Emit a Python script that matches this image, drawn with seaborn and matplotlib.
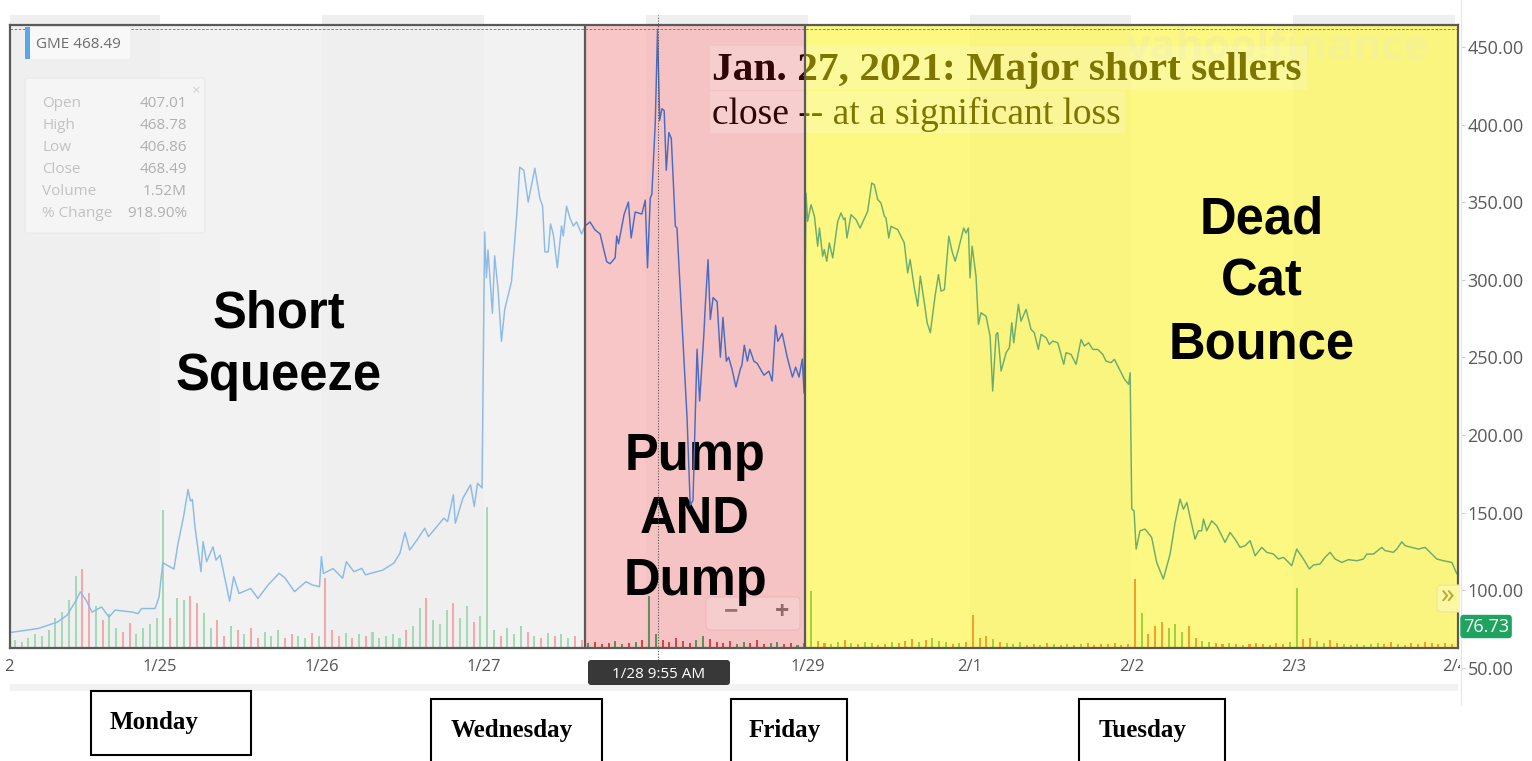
import numpy as np
import pandas as pd
import matplotlib
matplotlib.use("Agg")
import matplotlib.pyplot as plt
import matplotlib.transforms as mtransforms
from matplotlib.patches import Rectangle, FancyBboxPatch
import seaborn as sns

# ------------------------------------------------------------------ data
day_labels = ["1/22", "1/25", "1/26", "1/27", "1/28", "1/29", "2/1", "2/2", "2/3", "2/4"]

# GME intraday price. t = trading-day position (0 = 1/22 open, 1 = 1/25 open, ...)
t_squeeze = [0.083, 0.246, 0.367, 0.426, 0.475, 0.508, 0.543, 0.580, 0.639, 0.685, 0.722, 0.790, 0.830, 0.864, 0.886, 0.969, 0.994,
             1.017, 1.086, 1.111, 1.146, 1.173, 1.188, 1.200, 1.216, 1.253, 1.266, 1.288, 1.327, 1.346, 1.371, 1.430, 1.455, 1.488,
             1.560, 1.605, 1.667, 1.735, 1.772, 1.831, 1.902, 1.940, 1.985,
             1.997, 2.009, 2.069, 2.128, 2.151, 2.198, 2.246, 2.269, 2.320, 2.375, 2.445, 2.482, 2.513, 2.542, 2.587, 2.635, 2.658,
             2.753, 2.776, 2.812, 2.824, 2.871, 2.918, 2.941, 2.961, 2.989]
p_squeeze = [73.0, 75.4, 79.6, 84.0, 92.4, 99.0, 93.8, 86.0, 89.3, 82.8, 87.3, 86.5, 86.0, 85.0, 88.3, 88.3, 95.7,
             117.8, 113.7, 130.0, 147.8, 165.0, 157.5, 158.6, 141.0, 112.0, 131.4, 118.5, 128.0, 119.5, 122.7, 93.0, 108.8, 98.0,
             101.2, 94.8, 103.4, 111.0, 108.0, 99.2, 105.6, 103.5, 102.4,
             121.7, 110.9, 114.0, 107.8, 118.5, 112.0, 114.2, 110.0, 111.5, 113.0, 117.6, 124.0, 137.3, 126.0, 132.4, 140.0, 134.6,
             146.5, 144.3, 161.6, 143.3, 159.4, 168.0, 154.0, 169.0, 166.0]

t_pump = [3.005, 3.016, 3.026, 3.053, 3.067, 3.088, 3.109, 3.129, 3.171, 3.202, 3.222, 3.247, 3.274, 3.315, 3.346, 3.363,
          3.377, 3.398, 3.412, 3.429, 3.454, 3.480, 3.491, 3.511, 3.532, 3.553, 3.573, 3.604, 3.625, 3.656, 3.687, 3.718,
          3.759, 3.780, 3.811, 3.821, 3.832, 3.867, 3.893, 3.910, 3.935, 3.976, 3.997,
          4.011, 4.028, 4.038, 4.059, 4.073, 4.086, 4.100, 4.114, 4.127, 4.143, 4.158, 4.183, 4.193, 4.255, 4.275, 4.292,
          4.317, 4.333, 4.358, 4.368, 4.385, 4.399, 4.416, 4.441, 4.461, 4.477, 4.498, 4.512, 4.533, 4.557, 4.584, 4.594,
          4.609, 4.628, 4.643, 4.668, 4.688, 4.730, 4.761, 4.781, 4.802, 4.816, 4.843, 4.874, 4.906, 4.926, 4.947, 4.967, 4.978]
p_pump = [330.9, 301.4, 319.3, 278.4, 315.5, 293.7, 260.4, 280.9, 298.9, 339.8, 372.6, 370.6, 350.1, 371.9, 352.6, 347.5,
          318.0, 318.0, 336.0, 329.6, 307.8, 334.7, 328.3, 347.5, 339.8, 334.7, 337.3, 329.6, 334.7, 337.3, 332.2, 329.6,
          311.7, 310.4, 314.2, 328.3, 323.2, 342.4, 350.1, 327.0, 343.7, 342.4, 351.4,
          307.8, 352.6, 355.2, 401.3, 461.5, 402.6, 410.3, 409.0, 370.6, 394.9, 391.1, 334.7, 333.4, 211.7, 155.0, 158.0,
          255.3, 222.0, 263.0, 283.5, 313.0, 274.5, 288.6, 286.0, 250.2, 275.8, 247.6, 250.2, 242.5, 231.0, 242.5, 245.0,
          257.9, 247.6, 255.3, 247.6, 246.3, 238.6, 241.2, 234.8, 270.7, 260.4, 265.5, 250.2, 237.4, 243.8, 237.4, 249.0, 227.0]

t_fri_mon = [4.990, 5.000, 5.021, 5.042, 5.062, 5.073, 5.093, 5.103, 5.118, 5.134, 5.155, 5.186, 5.206, 5.223, 5.231, 5.243,
             5.268, 5.299, 5.324, 5.371, 5.396, 5.412, 5.433, 5.453, 5.474, 5.484, 5.501, 5.515, 5.556, 5.597, 5.618, 5.633,
             5.659, 5.680, 5.696, 5.721, 5.738, 5.758, 5.787, 5.808, 5.824, 5.845, 5.872, 5.892, 5.911, 5.931, 5.964, 5.978, 5.993,
             6.003, 6.016, 6.040, 6.055, 6.071, 6.102, 6.127, 6.143, 6.164, 6.174, 6.195, 6.226, 6.246, 6.261, 6.273, 6.302,
             6.318, 6.349, 6.380, 6.400, 6.425, 6.442, 6.473, 6.493, 6.514, 6.545, 6.582, 6.596, 6.627, 6.658, 6.689, 6.709,
             6.736, 6.761, 6.792, 6.823, 6.843, 6.874, 6.895, 6.926, 6.957, 6.983, 6.992]
p_fri_mon = [356.0, 337.7, 348.4, 341.0, 321.7, 333.4, 315.2, 319.5, 312.0, 323.8, 314.2, 337.7, 343.1, 338.8, 339.9, 327.0,
             342.0, 338.8, 333.4, 344.2, 362.4, 361.3, 351.7, 349.5, 341.0, 339.9, 327.0, 334.5, 332.4, 323.8, 304.5, 313.1,
             294.9, 283.1, 302.4, 285.2, 272.4, 266.0, 289.5, 303.4, 292.7, 293.8, 328.1, 318.4, 312.0, 319.5, 333.4, 330.2, 333.4,
             301.3, 321.7, 302.4, 271.3, 278.8, 276.6, 263.8, 228.4, 264.9, 266.0, 241.3, 253.1, 256.3, 272.4, 259.5, 284.2,
             273.4, 281.0, 268.1, 266.0, 255.2, 264.9, 262.7, 258.4, 260.6, 259.5, 245.6, 253.1, 252.0, 245.6, 261.6, 257.4,
             259.5, 255.2, 255.2, 252.0, 247.7, 246.7, 248.8, 242.4, 236.0, 232.7, 240.2]

t_tue_wed = [7.002, 7.016, 7.029, 7.053, 7.084, 7.125, 7.156, 7.197, 7.239, 7.270, 7.300, 7.321, 7.342, 7.393, 7.414, 7.434,
             7.445, 7.465, 7.496, 7.527, 7.558, 7.578, 7.609, 7.640, 7.671, 7.702, 7.733, 7.764, 7.805, 7.836, 7.877, 7.908,
             7.939, 7.990,
             8.021, 8.062, 8.099, 8.124, 8.165, 8.196, 8.227, 8.258, 8.299, 8.340, 8.392, 8.433, 8.454, 8.495, 8.546, 8.567,
             8.618, 8.639, 8.670, 8.690, 8.731, 8.772, 8.814, 8.855, 8.886, 8.927, 8.979, 9.010]
p_tue_wed = [152.3, 151.3, 126.6, 138.4, 139.5, 134.1, 118.0, 107.3, 123.4, 143.8, 158.8, 152.3, 156.6, 133.0, 138.4, 138.4,
             145.9, 138.4, 144.8, 141.6, 135.2, 130.9, 137.3, 133.0, 127.7, 128.8, 132.0, 122.3, 127.7, 124.5, 123.4, 120.2,
             121.3, 115.9,
             126.6, 120.2, 113.8, 116.3, 117.0, 121.3, 124.5, 120.2, 118.0, 119.8, 119.1, 120.2, 123.4, 123.4, 127.7, 125.6,
             124.5, 126.6, 131.3, 128.8, 127.7, 126.6, 127.7, 123.4, 120.2, 119.1, 118.0, 110.6]

# traded volume, 24 bars per trading day (relative units, 10k shares)
vol_0122 = [0, 0, 8, 6, 10, 14, 12, 18, 30, 36, 48, 72, 79, 55, 42, 28, 34, 20, 16, 25, 14, 20, 24, 30]
vol_0125 = [138, 30, 50, 48, 52, 45, 35, 20, 28, 12, 22, 18, 14, 20, 10, 16, 12, 18, 10, 14, 12, 10, 15, 12]
vol_0126 = [70, 18, 12, 15, 10, 14, 12, 16, 10, 12, 14, 10, 18, 22, 40, 50, 28, 24, 38, 45, 30, 42, 26, 32]
vol_0127 = [141, 18, 12, 20, 14, 22, 16, 12, 10, 15, 12, 14, 10, 12, 8, 5, 6, 4, 5, 7, 4, 5, 6, 8]
vol_0128 = [52, 14, 8, 6, 10, 7, 5, 8, 12, 9, 6, 5, 7, 4, 6, 5, 8, 4, 5, 6, 4, 5, 3, 5]
vol_0129 = [57, 7, 5, 4, 6, 8, 5, 4, 6, 5, 3, 4, 6, 5, 7, 9, 6, 8, 10, 7, 6, 4, 5, 6]
vol_0201 = [33, 10, 12, 9, 6, 5, 4, 6, 3, 4, 3, 5, 4, 3, 4, 3, 4, 5, 3, 4, 4, 5, 3, 4]
vol_0202 = [69, 35, 14, 22, 26, 20, 24, 16, 22, 10, 7, 6, 5, 4, 5, 4, 3, 4, 5, 4, 3, 5, 4, 6]
vol_0203 = [60, 9, 10, 7, 5, 8, 5, 4, 3, 4, 3, 4, 5, 4, 6, 4, 3, 5, 4, 6, 5, 4, 5, 4]

phase_names = ["Short\nSqueeze", "Pump\nAND\nDump", "Dead\nCat\nBounce"]
phase_breaks = [3.625, 4.984]
weekday_names = ["Monday", "Wednesday", "Friday", "Tuesday"]
note_lines = ["Jan. 27, 2021: Major short sellers", "close -- at a significant loss"]
quote_text = "GME 468.49"
info_labels = ["Open", "High", "Low", "Close", "Volume", "% Change"]
info_values = ["407.01", "468.78", "406.86", "468.49", "1.52M", "918.90%"]
price_ticks = [50, 100, 150, 200, 250, 300, 350, 400, 450]
prev_close = 76.73
cross_t = 4.073
cross_label = "1/28 9:55 AM"

# ------------------------------------------------------------------ setup
W, H, DPI = 1532, 761, 100
sns.set_theme(style="white")
plt.rcParams['font.family'] = ['Open Sans', 'DejaVu Sans']

fig = plt.figure(figsize=(W / DPI, H / DPI), dpi=DPI)
fig.patch.set_facecolor('white')
ID = mtransforms.IdentityTransform()


def price_at(ypx):
    return 450 - (ypx - 47) * 400 / 621


def box(x0, y0, x1, y1, rs=0, **kw):
    style = f"round,pad=0,rounding_size={rs}" if rs else "square,pad=0"
    p = FancyBboxPatch((x0, H - y1), x1 - x0, y1 - y0, boxstyle=style, transform=ID, **kw)
    fig.add_artist(p)
    return p


def label(x, y, s, **kw):
    return fig.text(x, H - y, s, transform=ID, **kw)


L, R, T, B = 10, 1458, 25, 648
X0, X1 = 0.0735, 9.017
Y0, Y1 = price_at(B), price_at(T)

ax = fig.add_axes([L / W, 1 - B / H, (R - L) / W, (B - T) / H])
ax_v = ax.twinx()
ax.set_zorder(2)
ax_v.set_zorder(1)
ax.patch.set_visible(False)
ax_v.patch.set_visible(False)

bounds = [X0] + phase_breaks + [X1]
bg_cols = ['#f2f2f2', '#f8c6c6', '#fcf881']
line_cols = ['#8bbbe6', '#4a6bc1', '#6cad6e']
vol_cols = [('#a3d9b5', '#f3a9a9'), ('#5f8f5c', '#d54545'), ('#a4cf3e', '#f2a12c')]

# phase backgrounds + faint alternating day shading
for i in range(3):
    ax_v.axvspan(bounds[i], bounds[i + 1], color=bg_cols[i], lw=0, zorder=0)
for d in range(0, 9, 2):
    ax_v.axvspan(max(d, X0), d + 1, color='black', alpha=0.01, lw=0, zorder=0.5)

# ------------------------------------------------------------------ price
t_all = np.array(t_squeeze + t_pump + t_fri_mon + t_tue_wed)
p_all = np.array(p_squeeze + p_pump + p_fri_mon + p_tue_wed)
price_df = pd.DataFrame({"t": t_all, "price": p_all})

for i in range(3):
    sns.lineplot(data=price_df, x="t", y="price", ax=ax, color=line_cols[i], linewidth=1.05,
                 estimator=None, sort=False, zorder=6)
    ln = ax.get_lines()[-1]
    ln.set_clip_path(Rectangle((bounds[i], Y0), bounds[i + 1] - bounds[i], Y1 - Y0, transform=ax.transData))

# ------------------------------------------------------------------ volume
vol_days = [vol_0122, vol_0125, vol_0126, vol_0127, vol_0128, vol_0129, vol_0201, vol_0202, vol_0203]
n_per_day = 24
rows = []
for d, vols in enumerate(vol_days):
    for k, v in enumerate(vols):
        t0 = d + k / n_per_day
        rows.append((t0 + 0.5 / n_per_day, v, t0, t0 + 1 / n_per_day))
vdf = pd.DataFrame(rows, columns=["t", "vol", "t0", "t1"])
up = np.interp(vdf.t1, t_all, p_all) >= np.interp(vdf.t0, t_all, p_all)
ph = np.searchsorted(phase_breaks, vdf.t)
bar_cols = [vol_cols[p][0] if u else vol_cols[p][1] for p, u in zip(ph, up)]
ax_v.bar(vdf.t, vdf.vol, width=0.3 / n_per_day, color=bar_cols, linewidth=0, zorder=2)
ax_v.set_ylim(0, B - T)
ax_v.set_yticks([])
for s in ax_v.spines.values():
    s.set_visible(False)

# ------------------------------------------------------------------ main axes decorations
for b in phase_breaks:
    ax.axvline(b, color='#5a5a5a', lw=1.6, zorder=8)
for s in ax.spines.values():
    s.set_color('#5a5a5a')
    s.set_linewidth(1.6)
    s.set_zorder(9)

# top band strip above the frame (alternating days)
for d in range(0, 9, 2):
    x0 = max(d, X0)
    ax.add_patch(Rectangle((x0, 1.0), d + 1 - x0, 10 / (B - T), transform=ax.get_xaxis_transform(),
                           fc='#efefef', ec='none', clip_on=False, zorder=0))

# crosshair
ax.axhline(p_all.max(), color='#707070', lw=0.6, ls=(0, (3, 2)), zorder=7)
ax.vlines(cross_t, -0.02, 1.016, transform=ax.get_xaxis_transform(), colors='#555555',
          linestyles=(0, (1, 1.5)), lw=0.8, clip_on=False, zorder=7)

# x ticks; the 1/28 tick text sits under the crosshair date label
tick_text = [lab if lab != "1/28" else "" for lab in day_labels[1:]]
ax.set_xticks(range(1, 10))
ax.set_xticklabels(tick_text)
ax.tick_params(axis='x', length=3.6, width=0.8, color='#cccccc', labelsize=12, labelcolor='#555555', pad=4.5)
ax.set_yticks([])
ax.set_xlabel("")
ax.set_ylabel("")
off = mtransforms.offset_copy(ax.get_xaxis_transform(), fig=fig, y=-(3.6 + 4.5), units='points')
t22 = ax.text(0, 0, day_labels[0], transform=off, ha='center', va='top', fontsize=12, color='#555555', clip_on=True)
t22.set_clip_path(Rectangle((5, 0), W, H, transform=ID))

# phase labels
phase_pos = [(1.735, 258.0), (4.305, 145.9), (7.807, 298.5)]
for name, (px, py) in zip(phase_names, phase_pos):
    ax.text(px, py, name, ha='center', va='center', fontsize=36.5, fontweight='bold',
            family='Liberation Sans', color='black', linespacing=1.36, zorder=4)

# annotation (dark on the pink phase, olive on the yellow phase)
clip_red = Rectangle((phase_breaks[0], Y0), phase_breaks[1] - phase_breaks[0], Y1 - Y0, transform=ax.transData)
clip_yel = Rectangle((phase_breaks[1], Y0), X1 - phase_breaks[1], Y1 - Y0, transform=ax.transData)
note_x = 4.4096
for txt, yb, kw in [(note_lines[0], 428.7, dict(fontweight='bold', fontsize=29.8)),
                    (note_lines[1], 400.4, dict(fontsize=27))]:
    for col, cp in [('#300505', clip_red), ('#7d7600', clip_yel)]:
        tt = ax.text(note_x, yb, txt, ha='left', va='baseline', color=col, family='Liberation Serif',
                     zorder=7, clip_on=True, **kw)
        tt.set_clip_path(cp)

ax.set_xlim(X0, X1)
ax.set_ylim(Y0, Y1)

# ------------------------------------------------------------------ figure-level widgets
label(1430, 48, "yahoo!finance", ha='right', va='center', fontsize=31, fontweight='bold',
      color='#f6f291', zorder=1.2)
box(710, 46, 1307, 90, fc='white', alpha=0.2, ec='none', zorder=1.5)
box(710, 91, 1125, 133, fc='white', alpha=0.2, ec='none', zorder=1.5)

# quote chip + info panel
box(25, 27, 130, 59, rs=2, fc='#f8f8f8', ec='none', zorder=2.1)
box(25, 27, 29.5, 59, fc='#5aa6e9', ec='none', zorder=2.2)
label(36, 45, quote_text, ha='left', va='center', fontsize=11, color='#6e6e6e', zorder=2.3)
box(25, 78, 205, 233, rs=3, fc='#f5f5f5', ec='#e9e9e9', lw=0.8, zorder=2.1)
label(195, 91, "×", ha='center', va='center', fontsize=11, color='#d2d2d2', zorder=2.3)
for i, (lab, val) in enumerate(zip(info_labels, info_values)):
    yy = 103.5 + 22 * i
    label(42, yy, lab, ha='left', va='center', fontsize=11, color='#c2c2c2', zorder=2.3)
    label(187, yy, val, ha='right', va='center', fontsize=11, color='#b0b0b0', zorder=2.3)

# zoom buttons, scroll button
box(706, 597, 800, 630, rs=4, fc='#f6cdcd', ec='#ebb9b9', lw=0.8, zorder=1.5)
box(756.5, 600, 757.3, 627, fc='#e8b4b4', ec='none', zorder=1.6)
label(731, 612, "−", ha='center', va='center', fontsize=18, fontweight='bold', color='#9a7272', zorder=1.7)
label(782, 612, "+", ha='center', va='center', fontsize=18, fontweight='bold', color='#8e6a6a', zorder=1.7)
box(1437, 585, 1470, 612, rs=4, fc='#fbf7a2', ec='#ece69a', lw=0.8, zorder=2.1)
label(1448, 597, "»", ha='center', va='center', fontsize=20, color='#b3ab2a', zorder=2.2)

# bottom strip and crosshair date label
box(10, 684, 1458, 691, fc='#f2f2f2', ec='none', zorder=0.5)
box(588, 660, 730, 685, rs=3, fc='#383838', ec='none', zorder=2.2)
label(659, 674, cross_label, ha='center', va='center', fontsize=11, color='white', zorder=2.3)

# right margin and price scale
box(1459.5, 0, W, H, fc='white', ec='none', zorder=2.5)
ax_r = fig.add_axes([1460 / W, 1 - 705 / H, 0.5 / W, 705 / H])
ax_r.set_zorder(3)
ax_r.patch.set_visible(False)
ax_r.set_ylim(price_at(705), price_at(0))
ax_r.set_yticks(price_ticks)
ax_r.set_yticklabels([f"{v:.2f}" for v in price_ticks])
ax_r.yaxis.tick_right()
ax_r.tick_params(axis='y', length=3, width=0.8, color='#cfcfcf', labelsize=13, labelcolor='#5a5a5a', pad=2)
ax_r.set_xticks([])
for s in ['left', 'top', 'bottom']:
    ax_r.spines[s].set_visible(False)
ax_r.spines['right'].set_color('#e6e6e6')
ax_r.spines['right'].set_linewidth(0.8)
tr_r = mtransforms.offset_copy(mtransforms.blended_transform_factory(ax_r.transAxes, ax_r.transData),
                               fig=fig, x=2.5, units='dots')
ax_r.text(1.0, prev_close, f"{prev_close:.2f}", transform=tr_r, ha='left', va='center', fontsize=13,
          color='white', clip_on=False, zorder=5,
          bbox=dict(boxstyle='round,pad=0.15,rounding_size=0.2', fc='#1ea45f', ec='none'))

# weekday boxes below the chart
wk_geom = [(91, 691, 251, 755, 154, 722), (431, 699, 602, 775, 512, 731),
           (731, 699, 847, 775, 785, 731), (1079, 699, 1225, 775, 1143, 731)]
for name, (x0, y0, x1, y1, cx, cy) in zip(weekday_names, wk_geom):
    box(x0, y0, x1, y1, fc='white', ec='black', lw=1.5, zorder=4)
    label(cx, cy, name, ha='center', va='center', fontsize=18, fontweight='bold',
          family='Liberation Serif', color='black', zorder=5)

fig.savefig("out.png", dpi=DPI)
